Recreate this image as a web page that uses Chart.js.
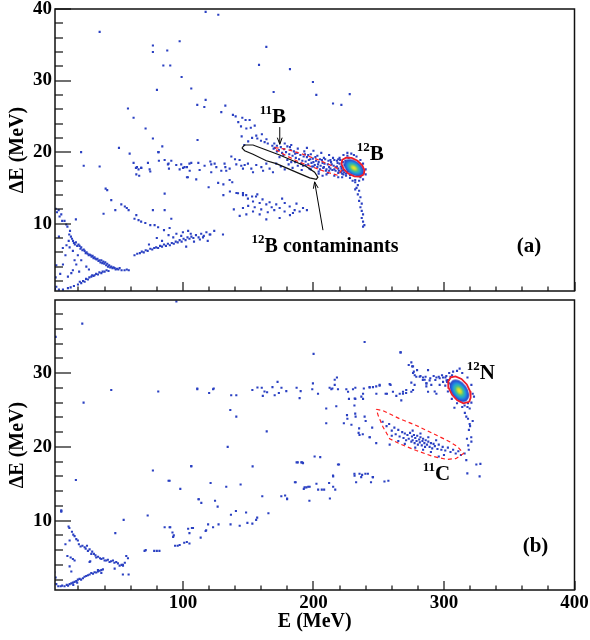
<!DOCTYPE html>
<html>
<head>
<meta charset="utf-8">
<script src="https://cdn.jsdelivr.net/npm/chart.js@4.4.1/dist/chart.umd.min.js"></script>
<style>
  html, body { margin: 0; padding: 0; background: #fff; }
  #wrap { position: relative; width: 590px; height: 640px; }
  canvas { position: absolute; left: 0; }
  #chartA { top: 0; }
  #chartB { top: 290px; }
</style>
</head>
<body>
<div id="wrap">
  <canvas id="chartA" width="590" height="300"></canvas>
  <canvas id="chartB" width="590" height="350"></canvas>
</div>
<script>
const FONT = '"Liberation Serif", "Times New Roman", serif';
const DOT = '#2a40c2';

// ---- Panel (a): E vs dE events, 12B setting ----
const crossA = [
  [2.5,12.1],[3.5,11.6],[4.8,11.9],[5.5,11.0],[6.8,11.3],[7.5,10.4],[9.3,10.4],[10.6,9.9],[11.5,9.6],[12.9,8.5],
  [13.5,9.0],[14.2,8.2],[15.0,7.9],[15.8,7.6],[16.5,7.3],[17.2,7.1],[18.0,7.4],[19.0,6.9],[20.0,7.1],[20.8,6.9],
  [21.5,6.5],[22.1,6.7],[23.0,6.3],[24.0,6.4],[24.7,6.2],[25.5,5.9],[26.2,6.0],[27.0,5.8],[27.8,5.6],[28.5,5.7],
  [29.3,5.6],[30.0,5.4],[30.8,5.5],[31.5,5.2],[32.3,5.3],[33.0,5.1],[33.8,5.0],[34.5,5.1],[35.3,4.8],[36.0,4.9],
  [36.8,4.6],[37.5,4.9],[38.2,4.5],[39.0,4.7],[39.7,4.4],[40.5,4.6],[41.2,4.2],[42.0,4.4],[42.6,4.0],[43.5,4.2],
  [44.3,3.9],[45.1,4.0],[46.0,3.8],[46.8,3.9],[47.7,3.8],[48.5,3.6],[49.5,3.7],[50.5,3.6],[51.5,3.8],[53.0,3.5],
  [55.3,3.5],[57.0,3.6],[58.5,3.5],
  [2.0,0.9],[3.0,1.2],[5.0,0.8],[8.1,0.8],[11.9,1.0],[14.0,1.1],[16.5,1.3],[19.6,1.5],[21.0,1.9],[22.1,1.7],
  [23.5,2.0],[24.7,1.9],[25.8,2.3],[27.2,2.2],[28.3,2.5],[29.8,2.6],[30.5,2.8],[31.5,2.7],[32.3,2.8],[33.5,3.0],
  [34.9,2.9],[36.0,3.2],[37.5,3.1],[38.5,3.3],[40.0,3.3],[41.5,3.5],[43.0,3.4],
  [3.0,4.2],[2.5,2.5],[6.0,3.0],[8.1,4.3],[10.0,5.6],[11.9,2.6],[13.2,6.7],[12.5,7.6],[14.5,3.1],[15.7,3.5],
  [15.7,6.2],[17.0,4.9],[18.3,4.3],[19.5,5.6],[22.1,4.9],[18.0,10.6],[20.5,3.3],[26.0,4.0],[28.0,3.6],[10.8,7.0],
  [5.0,8.2],[8.0,6.6]
];
const risingA = [
  [62.9,5.6],[65.0,5.8],[67.0,5.9],[68.5,6.1],[70.0,6.0],[71.5,6.3],[73.0,6.2],[75.0,6.5],[76.5,6.4],[78.0,6.6],
  [79.5,6.7],[81.0,6.6],[82.5,6.9],[84.0,6.8],[85.5,7.1],[87.0,6.9],[88.5,7.2],[90.0,7.0],[91.5,7.3],[93.0,7.2],
  [94.5,7.5],[96.0,7.4],[97.5,7.7],[99.0,7.5],[100.5,7.9],[102.0,7.7],[103.5,8.1],[105.0,7.9],[106.5,8.2],[108.0,8.0],
  [92.6,8.1],[98.7,8.3],[102.5,6.8],[106.0,8.6],[95.0,8.6],[89.0,8.4],[84.0,7.6],[100.0,8.8],[104.0,9.0],[108.5,7.5],
  [80.0,8.0],[74.0,7.1],[110,8.4],[112,8.1],[114,8.6],[116,8.3],[118,8.8],[121,8.5],[124,9.0],[113,7.8],
  [119,7.6],[115.4,8.1],[120.5,8.5],[130.7,8.5],
  [40.8,14.9],[42.0,14.7],[45.1,13.3],[48.2,11.9],[52.8,12.7],[55.5,12.4],[57.0,12.2],[58.4,11.9],[64.3,11.2],[62.9,10.7],
  [66.0,10.5],[68.0,10.3],[71.2,10.1],[75.0,9.8],[78.3,9.8],[81.0,9.5],[85.5,9.1],[89.8,9.4],[91.1,10.7],[77.0,11.9],
  [86.0,11.9],[86.0,14.2],[39.2,11.4]
];
const bandA = [
  [59.2,19.8],[62.2,18.5],[64.0,17.8],[66.0,17.6],[68.0,17.8],[64.3,16.9],[66.5,16.7],[73.2,18.5],[74.5,17.6],[75.0,17.3],
  [81.4,20.0],[81.6,18.8],[86.0,18.9],[88.5,18.3],[91.1,18.8],[94.9,18.2],[98.7,18.3],[101.3,17.9],[105.0,18.4],[103.8,16.5],
  [110.2,16.2],[103.1,16.5],[64.8,17.9],[68.1,17.8],[89.0,18.4],[89.3,17.7],[97.5,17.6],[103.1,17.9],[105.2,17.4],[106.4,18.5],
  [100.1,17.8],[111.8,18.5],[112.8,17.5],[116.6,18.1],[121.0,18.7],[121.7,18.3],[124.3,18.4],[125.6,17.9],[121.7,17.2],[129.4,17.4],
  [131.9,18.4],[132.5,17.9],[133.2,17.4],[135.8,17.7],[137.1,19.4],[139.9,19.0],[143.4,18.9],[140.9,18.3],[144.7,18.1],[147.3,18.2],
  [149.8,18.4],[146.0,17.7],[152.4,17.7],[153.7,17.2],[156.2,18.2],[160.1,17.9],[161.4,17.4],[163.9,18.4],[166.4,17.7],[169.0,17.2],
  [171.5,18.4],[175,18.0],[178,17.6],[181,18.3],[184,17.8],[188,18.1],[191,17.5],[194,18.2],[197,17.7],[200,18.0],
  [204,17.3],[208,17.9],[212,17.4],[216,17.6],[219,17.1],[222,17.4],
  [119.7,15.1],[127,15.7],[131,15.5],[135.8,16.1],[137.8,15.8],[131,14.0],[136,14.5],[141,14.3],[146,14.3],[148.5,14.0],
  [153,13.8],[156,13.8]
];
const upperBandA = [
  [140.4,25.0],[145.5,24.8],[148,24.5],[151.1,24.5],[142.4,24.2],[144.5,23.6],[148.6,23.3],[152,23.4],[155,23.7],[145,22.2],
  [156.2,22.3],[157,21.9],[159.8,21.6],[162.6,21.4],[165,21.2],[164,21.8],[168.5,20.9],[170,21.2],[169.5,20.5],[160.5,22.5],
  [153,22.0],[150,21.5],[147,21.0],[138.3,25.2],
  [170.5,20.6],[172,20.9],[173.5,20.3],[175,20.7],[176,19.9],[177.5,20.4],[179,20.0],[180,20.8],[181.5,19.7],[182.5,20.3],
  [184,19.5],[185,20.1],[186.5,19.2],[187.5,19.9],[189,19.0],[190,19.6],[191.5,18.8],[192.5,19.4],[194,18.7],[195,19.3],
  [196,18.3],[197.5,19.0],[198.5,18.5],[199.5,19.1],[201,18.2],[202,18.8],[203,17.9],[204,18.6],[205.5,18.1],[206.5,18.9],
  [207.5,17.8],[208.5,18.4],[210,17.6],[211,18.3],[212,17.9],[213.5,18.6],[214.5,17.5],[215.5,18.1],[217,17.4],[218,18.0],
  [219,17.7],[220,18.4],[221,17.2],[222,17.9],[223,17.5],[224,18.2],[225,17.0],[226,17.6],[178,21.2],[183,21.0],
  [188,20.5],[193,20.1],[198,19.7],[203,19.5],[208,19.2],[213,18.9],[218,18.8],[174,19.3],[180,18.9],[186,18.6],
  [192,18.1],[198,17.6],[204,17.0],[210,16.9],[216,16.7],[222,16.5],[228,16.8],[195,20.6],[200,20.2],[206,19.9],
  [212,19.6],
  [220,19.2],[221,18.0],[223,19.6],[226,19.9],[229,19.8],[233,19.4],[236,18.9],[238,18.4],[240,17.6],[240,16.9],
  [238,16.2],[235,16.0],[232,16.1],[228,16.4],[225,16.7],[222,17.0],[219,16.5],[227,19.2],[231,19.6],[237,17.2],
  [232,15.8],[234,15.4],[233,15.0],[235,14.6],[234,14.1],[236,13.7],[235,13.2],[237,12.8],[236,12.3],[237,11.8],
  [238,11.3],[237,10.8],[238,10.3],[239,9.8],[238,9.6],[232,14.8],[230,16.0],[236,16.5]
];
// densest part of the 11B / 12B ridge
const denseA = [
  [190.5,18.4],[193.5,19.7],[196.5,18.9],[199,18.0],[201.5,19.3],[203.5,18.3],[205,19.0],[207,18.5],[209,19.0],[209.5,17.4],
  [211.5,18.8],[213,17.7],[214,18.3],[216,18.9],[217.5,17.9],[218.5,18.5],[219.5,17.4],[220.5,18.9],[221.5,17.7],[222.5,18.6],
  [223.5,17.2],[224.5,18.8],[225.5,18.1],[226.5,17.3],[227,18.5],[228,17.9],[223,16.9],[226,19.5],[219,19.0],[215,19.2],
  [211,17.1],[205,17.6],[200,18.6],[196,19.6],[186,19.8],[183,18.6],[177,19.6],[172,20.1],[182,20.7],[207,16.7]
];
const lowClusterA = [
  [142.2,14.25],[146,14.0],[149.8,13.5],[153.7,13.1],[158.8,12.9],[163.9,12.7],[166.4,13.0],[171.5,12.7],[174.1,12.2],[177.9,11.7],
  [181.8,12.4],[185.6,11.9],[189.4,11.7],[192,12.2],[153.7,11.7],[158.8,11.3],[148.6,11.3],[143.5,11.1],[163.9,10.6],[174.1,10.8],
  [184.3,11.5],[150,12.5],[155,12.3],[160,12.0],[165,11.6],[170,11.9],[178,12.9],[182,11.2],[187,12.8],[168,12.3],
  [161,13.4],[146,12.2],[139,12.0],[195,11.9],[176,13.5],[157,14.1]
];
const scatterA = [
  [36.2,36.8],[77,34.9],[77,34.0],[88,34.2],[97.5,35.5],[117.4,39.6],[127.1,39.2],[163.9,34.7],[85,32.1],[90.3,32.1],
  [99,30.5],[158.3,32.2],[80.1,28.7],[106.4,28.9],[117.4,27.3],[111,26.6],[116.4,26.3],[132.5,26.5],[129.4,25.6],[169.5,28.4],
  [62.2,24.8],[71.4,23.3],[77,21.9],[111.2,21.7],[84.2,20.8],[81.1,20.0],[57.9,26.1],[51,20.6],[22,20.0],[24,18.1],
  [36.2,18.0],[182,31.6],[199.6,29.8],[202.2,28.0],[215,26.8],[227.8,28.1],[221.4,26.6]
];
const hotA = [[231.0, 17.8]];
const gate11B = [[170.3,20.64],[179.2,20.41],[189.4,19.86],[202.2,19.04],[214.9,18.04],[221.3,17.45],[218.8,16.76],[209.9,17.22],[199.6,17.9],[189.4,18.59],[179.2,19.5],[171.6,20.32],[170.3,20.64]];
const gateContam = [[145.2,20.6],[147.3,21.0],[153.7,21.0],[163.9,20.3],[174.1,19.6],[184.3,18.8],[194.5,18.0],[200.9,17.2],[203.4,16.5],[202.2,16.2],[197.1,16.4],[189.4,17.0],[179.2,17.8],[171.6,18.4],[163.9,18.8],[153.7,19.7],[147.3,20.2],[145.2,20.6]];
const gate12B = [[238.5,16.88],[235.6,16.58],[231.3,16.62],[226.7,17.0],[223.1,17.64],[221.5,18.34],[222.1,18.93],[225.0,19.23],[229.3,19.19],[233.8,18.79],[237.4,18.16],[239.1,17.47],[238.5,16.88]];

// ---- Panel (b): E vs dE events, 12N setting ----
const crossB = [
  [6.8,11.4],[6.8,11.2],[12.4,9.2],[13.0,9.0],[15,8.5],[16,8.1],[17,7.9],[18.3,7.5],[19.5,7.3],[20.3,6.8],
  [21.6,6.5],[23,6.6],[24.7,6.4],[25.5,6.2],[26.5,6.6],[27.2,5.9],[28.5,6.1],[29.8,5.5],[30.5,5.8],[31.8,5.5],
  [33,5.3],[33.6,5.0],[35,5.1],[36.5,4.9],[37.5,4.8],[39,4.9],[40,4.6],[41.3,4.6],[42.5,4.7],[43.8,4.4],
  [45,4.5],[46.4,4.6],[47.5,4.3],[48.9,4.4],[50.2,4.2],[51.5,3.9],[53,4.0],[54.1,3.9],[56.6,5.2],[57.9,4.9],[55.5,4.3],
  [3,1.4],[4.5,1.1],[6.3,1.1],[7.5,1.2],[9.3,1.1],[11,1.3],[13.2,1.4],[14.5,1.5],[15.7,1.6],[17,1.7],
  [18.3,1.8],[19.5,2.0],[20.8,2.1],[22,2.0],[23.4,2.2],[24.6,2.4],[25.9,2.5],[27.2,2.6],[28.5,2.7],[29.8,2.9],
  [31.1,2.8],[32.3,3.0],[33.6,2.97],[35,3.1],[36.2,3.2],[37.5,3.3],[38.7,3.4],[16,1.3],[19,1.6],[12,1.2],
  [13.2,7.3],[14,5.0],[15.7,4.8],[17,4.6],[13.2,3.8],[14.5,3.1],[2.5,2.3],[29,4.5],[28.5,4.4],[34.9,3.3],
  [37.5,2.9],[47.7,3.5],[54,2.7],[54,4.0],[58.4,2.7],[11.5,5.2],[10,6.8],[1.5,3.0]
];
const midB = [
  [48.2,8.3],[54.6,10.1],[73,10.7],[77,16.8],[89,15.4],[98,14.3],[106.4,17.4],[86,9.1],[90.3,9.1],[92,8.4],
  [93,8.0],[92.5,7.8],[94,6.6],[96,6.6],[97.5,6.7],[101,7.0],[103,7.1],[105,6.9],[105,8.3],[106.9,9.0],
  [104,8.9],[70.6,5.9],[71.5,6.0],[78,5.9],[80,5.9],[82,5.9],[112,12.9],[18,15.5],
  [121.2,15.1],[133.2,14.6],[144.2,14.9],[89.8,15.4],[112.1,12.9],[114.1,12.4],[124.6,12.7],[126.6,11.9],[136.8,10.8],[140.6,11.3],
  [148.4,11.1],[165.5,11.0],[156.9,10.4],[156.1,10.1],[153.2,9.6],[149.4,9.7],[119.3,9.5],[123.1,9.1],[127.3,9.5],[136.5,9.5],
  [143.5,9.3],[89.8,9.1],[107.7,9.0],[117.8,8.7],[113.6,7.7],[117.4,8.6],[134.3,20.0],[106.4,17.35],[153.4,17.35],
  [187.1,17.9],[191.4,17.9],[188,17.9],[192,17.8],[218.8,17.6],[185.8,15.2],[193.2,14.5],[196,14.6],[202.3,15.0],[203.6,14.2],
  [206.4,14.2],[208.2,14.2],[212,15.1],[215.1,16.0],[215.1,14.6],[216.7,14.2],[212.6,13.0],[196.9,12.7],[175.4,13.3],[179.8,13.0],
  [160.8,13.3],[178.3,13.4],[179.8,12.9],[186.4,15.2],[192.6,14.3],[194.6,14.5],[197.1,14.6],
  [231.4,16.35],[232.7,15.2],[237.3,16.2],[239.8,16.35],[244.1,15.2],[245.4,15.9],[254.4,15.3],[257.4,15.4],[215,16.1],[231.5,16.1],
  [235.3,16.35],[241.7,16.35],[245.6,15.9],[236.6,15.9],[200.9,18.7],[205.2,18.6],[219.6,17.6],[190.7,17.9]
];
const upperBandB = [
  [111,27.8],[120.1,27.3],[123.1,27.8],[123.6,27.9],[137,27.0],[140.9,27.0],[153.2,27.7],[157.1,28.05],[160.4,28.0],[162.5,27.5],
  [164.5,27.4],[161.2,26.9],[168.6,28.1],[172.5,28.8],[175.5,28.0],[173.5,27.3],[170.3,27.0],[179.2,27.55],[187.1,28.0],[190.2,27.55],
  [189.4,26.6],[212.4,28.0],[214.5,27.9],[216.3,28.4],[218.8,27.8],[216.3,29.1],[218,29.4],[225.2,27.8],[232.1,28.0],[238.6,27.9],
  [243,28.1],[245.6,28.1],[248.1,28.2],[250.7,28.3],[255.3,27.2],[259.1,28.4],[227.2,26.5],[232.1,26.5],[238,26.5],[217.5,25.5],
  [231.4,25.6],[232,24.5],[232.3,24.1],[225.7,24.3],[239.2,24.1],[223.3,23.2],[229.1,23.0],[234.6,21.9],[237.8,21.7],[243,21.3],
  [248.1,20.5],[258.4,20.3],[209.8,25.2],[209.8,23.2],[136.3,25.0],[140.9,24.1],[164.2,22.1],[81.1,27.5],[45.1,27.7],
  [199.6,28.6],[199.1,27.8],[203.5,27.2],[213.7,27.8],[226.5,27.46],[230.3,27.8],[231.6,26.55],[236.7,26.8],[238,27.2],[243.1,28.05],
  [248.2,27.2],[250.7,28.4],[256.3,27.2],[258.4,28.5],[260.9,27.46],[266.1,27.2],[268.6,27.46],[271.1,27.7],[275,27.46],[276.3,27.7],
  [277.5,28.4],[286.5,28.2],[287.8,27.46],
  [273,31.1],[275.6,30.9],[276.9,30.2],[279.4,30.4],[282,29.6],[285.9,29.5],[283.8,29.05],[286.6,28.6],[289.5,29.3],[292.1,29.6],
  [293.4,29.05],[296,29.5],[298.5,29.7],[301.1,29.4],[302.4,28.8],[303.7,28.6],[306.2,29.7],[305,29.5],
  [275,31.45],[276.3,30.9],[276.3,30.0],[277.6,29.7],[275,28.7],[278.8,29.5],[281.4,29.5],[283.9,29.4],[285.2,29.1],[287.8,30.4],
  [289,29.0],[286.5,28.6],[290.3,28.4],[292.9,27.5],[294.2,29.4],[296.7,29.3],[299.3,29.4],[301.8,29.6],[303.1,29.05],[299.3,28.8],
  [296.7,28.4],[294.2,27.2],[271,27.3],[268.6,27.2],[263.5,26.9],[267.3,26.3],
  [304,30.0],[302,29.0],[307,30.2],[310,30.3],[314,30.0],[318,29.4],[321,28.4],[322,27.2],[321,26.0],[318,25.4],
  [314,25.4],[310,25.9],[306,26.5],[303,27.5],[301,28.3],[308,25.3],[323,26.8],[312,30.6],
  [313.3,26.3],[315.8,25.6],[318.4,25.9],[319.7,25.2],[317.1,24.1],[318.4,23.8],[319.7,23.1],[319.1,22.3],[320.9,21.3],[317.6,21.1],
  [318.6,20.2],[315.8,19.1],[317.1,18.2],[320,22.8],[321,20.7],[316,24.6],[319,19.6],[322,23.5],
  [324.8,17.6],[327.9,17.7],[327.3,16.0],[317.9,16.4]
];
const cluster11C = [
  [253,23.4],[256,22.8],[258,23.1],[260,22.2],[262,22.6],[263,21.7],[265,22.3],[266,21.4],[268,22.0],[269,21.2],
  [270,21.8],[271,20.9],[272,21.6],[273,21.1],[274,21.9],[275,20.7],[275.5,21.4],[276,20.9],[277,21.6],[277.5,20.5],
  [278,21.2],[279,20.8],[279.5,21.5],[280,20.3],[281,21.0],[281.5,20.6],[282,21.3],[283,20.2],[283.5,20.8],[284,21.1],
  [285,20.5],[285.5,20.0],[286,20.9],[287,20.3],[288,20.7],[289,20.0],[290,20.5],[291,19.8],[292,20.4],[293,20.1],
  [295,19.7],[296,20.3],[298,19.6],[299,20.0],[301,19.5],[303,19.9],[305,19.3],[307,19.6],[309,19.1],[311,19.4],
  [313,18.9],[278,19.9],[284,19.6],[290,19.3],[270,20.4],[265,20.8],[276,22.2],[282,21.8],[288,21.3],[294,20.9],
  [260,21.5],[300,18.9],[296,18.7],
  [243.2,21.3],[235.3,21.6],[235,22.5],[240,23.5],[245,22.6],[226,23.8]
];
const scatterB = [
  [2.5,34.9],[22.9,36.7],[23.9,26.0],[6.8,11.3],[111,27.9],[200.1,32.6],[239.2,34.2],[266.6,32.8],[266.9,32.8],[95,39.7]
];
const hotB = [[311.8, 27.6]];
const gate12N = [[319.3,26.1],[314.8,25.9],[310.2,26.3],[306.2,27.05],[303.6,27.99],[303.3,28.86],[305.2,29.43],[308.9,29.55],[313.4,29.2],[317.5,28.46],[320.0,27.52],[320.4,26.65],[319.3,26.1]];
const gate11C = [[248.2,25.1],[253.3,24.9],[266.1,23.8],[278.8,22.9],[291.6,21.8],[304.4,20.7],[310.5,20.0],[315,19.1],[309,18.4],[302,18.3],[291.6,18.7],[278.8,19.5],[266.1,20.4],[258.4,21.1],[253.3,22.7],[249.5,24.3],[248.2,25.1]];

// Axes
const xTickLabels = [100, 200, 300, 400];
const yTickLabelsA = [10, 20, 30, 40];
const yTickLabelsB = [10, 20, 30];

// Text notes (placed in data coordinates)
const notesA = {
  labels: [
    { sup: '11', text: 'B', e: 158.8, de: 24.1 },
    { sup: '12', text: 'B', e: 233.2, de: 18.9 },
    { sup: '12', text: 'B contaminants', e: 152.6, de: 6.1, size: 20 },
    { text: '(a)', e: 355.7, de: 6.1 }
  ],
  arrows: [
    { from: [174.2, 23.5], to: [174.2, 21.1] },
    { from: [207.3, 9.1], to: [200.9, 15.85] }
  ]
};
const notesB = {
  labels: [
    { sup: '12', text: 'N', e: 317.4, de: 29.2 },
    { sup: '11', text: 'C', e: 283.7, de: 15.5 },
    { text: '(b)', e: 360.3, de: 5.7 }
  ],
  arrows: []
};

function pts(arr) { return arr.map(([x, y]) => ({ x, y })); }

// heat-map blob for the dense peaks
function makeBlob(rx, ry, angle) {
  const size = Math.ceil(Math.max(rx, ry) * 2 + 4);
  const c = document.createElement('canvas');
  c.width = size; c.height = size;
  const g = c.getContext('2d');
  g.translate(size / 2, size / 2);
  g.rotate(angle);
  g.scale(1, ry / rx);
  const grad = g.createRadialGradient(0, 0, 0, 0, 0, rx);
  grad.addColorStop(0, '#f7ec1e');
  grad.addColorStop(0.2, '#c8da38');
  grad.addColorStop(0.4, '#48c08a');
  grad.addColorStop(0.6, '#1fa3d8');
  grad.addColorStop(0.82, '#2662dc');
  grad.addColorStop(1, '#2a3cb8');
  g.fillStyle = grad;
  g.beginPath(); g.arc(0, 0, rx, 0, Math.PI * 2); g.fill();
  return c;
}

function dots(arr) {
  return { data: pts(arr), pointStyle: 'rect', pointRadius: 1.5, backgroundColor: DOT, borderWidth: 0, order: 3 };
}
function gate(arr, color, dash, width) {
  return { data: pts(arr), showLine: true, pointRadius: 0, borderColor: color, borderWidth: width, borderDash: dash, fill: false, tension: 0, order: 1 };
}
function blob(arr, img) {
  return { data: pts(arr), pointStyle: img, pointRadius: 8, order: 2 };
}

// Frame with ROOT-style inward ticks
const framePlugin = {
  id: 'frame',
  afterDatasetsDraw(chart) {
    const { ctx, chartArea: a, scales: { x, y } } = chart;
    ctx.save();
    ctx.setLineDash([]);
    ctx.fillStyle = '#111';
    for (let v = 20; v <= 400; v += 20) {
      const px = Math.round(x.getPixelForValue(v));
      const len = v % 100 === 0 ? 9 : 4.5;
      ctx.fillRect(px - 0.6, a.bottom - len, 1.2, len);
    }
    for (let v = 2; v <= y.max + 0.01; v += 2) {
      const py = Math.round(y.getPixelForValue(v));
      const len = v % 10 === 0 ? 16 : 8;
      ctx.fillRect(a.left, py - 0.6, len, 1.2);
    }
    ctx.strokeStyle = '#111';
    ctx.lineWidth = 1.5;
    ctx.strokeRect(a.left, a.top, a.right - a.left, a.bottom - a.top);
    ctx.restore();
  }
};

function notesPlugin(notes) {
  return {
    id: 'notes',
    afterDatasetsDraw(chart) {
      const { ctx, scales: { x, y } } = chart;
      ctx.save();
      ctx.setLineDash([]);
      ctx.fillStyle = '#000';
      ctx.strokeStyle = '#000';
      ctx.textBaseline = 'alphabetic';
      notes.labels.forEach(l => {
        let px = x.getPixelForValue(l.e);
        const py = y.getPixelForValue(l.de);
        if (l.sup) {
          ctx.font = `bold 13px ${FONT}`;
          ctx.fillText(l.sup, px, py - 9);
          px += ctx.measureText(l.sup).width;
        }
        ctx.font = `bold ${l.size || 21}px ${FONT}`;
        ctx.fillText(l.text, px, py);
      });
      ctx.lineWidth = 1;
      notes.arrows.forEach(ar => {
        const x0 = x.getPixelForValue(ar.from[0]), y0 = y.getPixelForValue(ar.from[1]);
        const x1 = x.getPixelForValue(ar.to[0]), y1 = y.getPixelForValue(ar.to[1]);
        const ang = Math.atan2(y1 - y0, x1 - x0);
        ctx.beginPath();
        ctx.moveTo(x0, y0); ctx.lineTo(x1, y1);
        ctx.moveTo(x1 - 7 * Math.cos(ang - 0.35), y1 - 7 * Math.sin(ang - 0.35));
        ctx.lineTo(x1, y1);
        ctx.lineTo(x1 - 7 * Math.cos(ang + 0.35), y1 - 7 * Math.sin(ang + 0.35));
        ctx.stroke();
      });
      ctx.restore();
    }
  };
}

function yScale(max, labels) {
  return {
    type: 'linear', min: 0.6, max,
    afterBuildTicks: s => { s.ticks = labels.map(v => ({ value: v })); },
    afterFit: s => { s.width = 55; s.paddingTop = 0; s.paddingBottom = 0; },
    grid: { display: false, drawTicks: false }, border: { display: false },
    ticks: { padding: 3, color: '#000', font: { family: FONT, size: 19, weight: 'bold' } },
    title: { display: true, text: 'ΔE (MeV)', color: '#000', font: { family: FONT, size: 20, weight: 'bold' }, padding: { top: 6, bottom: 0 } }
  };
}

function xScale(show) {
  return {
    type: 'linear', min: 2, max: 400, display: show,
    afterBuildTicks: s => { s.ticks = xTickLabels.map(v => ({ value: v })); },
    afterFit: s => { s.height = show ? 50 : 0; s.paddingLeft = 0; s.paddingRight = 0; },
    grid: { display: false, drawTicks: false }, border: { display: false },
    ticks: { padding: 2, autoSkip: false, maxRotation: 0, color: '#000', font: { family: FONT, size: 19, weight: 'bold' } },
    title: { display: true, text: 'E (MeV)', color: '#000', font: { family: FONT, size: 20, weight: 'bold' }, padding: { top: 0, bottom: 6 } }
  };
}

function baseOptions(padding, ymax, ylabels, showX) {
  return {
    responsive: false,
    animation: false,
    events: [],
    layout: { padding },
    plugins: { legend: { display: false }, tooltip: { enabled: false } },
    scales: { x: xScale(showX), y: yScale(ymax, ylabels) }
  };
}

new Chart(document.getElementById('chartA'), {
  type: 'scatter',
  data: {
    datasets: [
      gate(gateContam, '#111', [], 1.2),
      gate(gate11B, '#ff2020', [4, 3], 1.2),
      gate(gate12B, '#ee1c2a', [], 1.8),
      blob(hotA, makeBlob(11.5, 7, 35 * Math.PI / 180)),
      dots(crossA), dots(risingA), dots(bandA), dots(upperBandA), dots(denseA), dots(lowClusterA), dots(scatterA)
    ]
  },
  options: baseOptions({ top: 7, right: 15.5, bottom: 3, left: 0 }, 40, yTickLabelsA, false),
  plugins: [framePlugin, notesPlugin(notesA)]
});

new Chart(document.getElementById('chartB'), {
  type: 'scatter',
  data: {
    datasets: [
      gate(gate11C, '#ff2020', [4, 3], 1.2),
      gate(gate12N, '#ee1c2a', [], 1.8),
      blob(hotB, makeBlob(12.5, 8, 55 * Math.PI / 180)),
      dots(crossB), dots(midB), dots(upperBandB), dots(cluster11C), dots(scatterB)
    ]
  },
  options: baseOptions({ top: 10, right: 15.5, bottom: 0, left: 0 }, 39.9, yTickLabelsB, true),
  plugins: [framePlugin, notesPlugin(notesB)]
});
</script>
</body>
</html>
